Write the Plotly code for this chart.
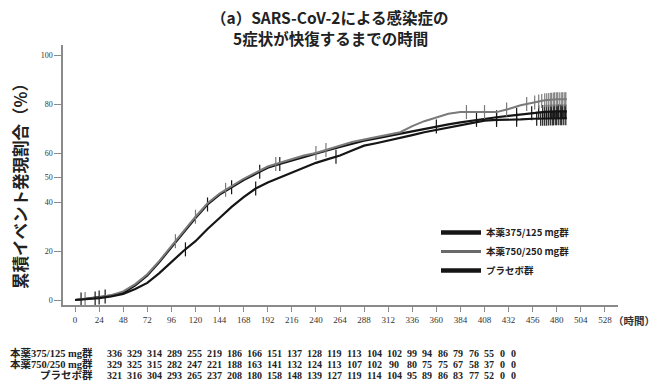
import numpy as np
import plotly.graph_objects as go

# ---------------- data ----------------
hours = [0, 12, 24, 36, 48, 60, 72, 84, 96, 108, 120, 132, 144, 156, 168, 180, 192, 204,
         216, 228, 240, 252, 264, 276, 288, 300, 312, 324, 336, 348, 360, 372, 384, 396,
         408, 420, 432, 444, 456, 468, 480, 490]

pct_375 = [0, 0.5, 1, 1.8, 3, 6, 10, 15.5, 21.5, 27.5, 33.5, 39, 43, 46, 49, 51.5, 54, 55.5,
           57, 58.5, 60, 61.2, 62.5, 63.8, 65, 66, 67, 68, 69, 70, 70.8, 71.7, 72.5, 73.3,
           74, 74.6, 75.2, 75.8, 76.3, 76.8, 77, 77]
pct_750 = [0, 0.5, 1, 2, 3.5, 6.5, 10.5, 16, 22, 28, 34, 39.5, 43.5, 46.5, 49.5, 52, 54.5, 56,
           57.5, 59, 60, 61.5, 63, 64.5, 65.5, 66.5, 67.5, 68.5, 71, 73, 74.5, 76, 76.7, 76.7,
           76.7, 76.7, 78, 79.5, 80.5, 81.5, 82, 82]
pct_pbo = [0, 0.3, 0.8, 1.5, 2.5, 4.5, 7, 11, 15.5, 20, 24, 29, 33.5, 38, 42, 45.5, 48, 50,
           52, 54, 56, 57.5, 59, 61, 63, 64, 65, 66.2, 67.3, 68.5, 69.5, 70.5, 71.5, 72.5,
           73.2, 73.5, 73.5, 73.7, 74, 74, 74.2, 74.2]

cens_375 = [6, 24, 30, 132, 156, 184, 204, 360, 400, 420, 440, 455, 462, 466, 468, 470, 472, 474,
            475, 477, 478, 480, 481, 482, 484, 485, 486, 488, 489]
cens_750 = [10, 100, 120, 150, 200, 240, 250, 390, 408, 430, 450, 458, 462, 465, 468, 470, 472,
            474, 475, 477, 478, 480, 481, 483, 485, 486, 488, 489]
cens_pbo = [20, 110, 180, 260, 420, 440, 460, 464, 466, 468, 470, 472, 474, 476, 477, 479, 480,
            482, 484, 485, 487, 489]

series_names = ["本薬375/125 mg群", "本薬750/250 mg群", "プラセボ群"]
table_labels = ["本薬375/125 mg群", "本薬750/250 mg群", "プラセボ群"]
risk_375 = [336, 329, 314, 289, 255, 219, 186, 166, 151, 137, 128, 119, 113, 104, 102, 99, 94, 86, 79, 76, 55, 0, 0]
risk_750 = [329, 325, 315, 282, 247, 221, 188, 163, 141, 132, 124, 113, 107, 102, 90, 80, 75, 75, 67, 58, 37, 0, 0]
risk_pbo = [321, 316, 304, 293, 265, 237, 208, 180, 158, 148, 139, 127, 119, 114, 104, 95, 89, 86, 83, 77, 52, 0, 0]

x_ticks = list(range(0, 529, 24))
y_ticks = [0, 20, 40, 50, 60, 80, 100]

title_lines = ["（a）SARS-CoV-2による感染症の", "5症状が快復するまでの時間"]
y_title = "累積イベント発現割合（%）"
x_unit = "（時間）"

# ---------------- figure ----------------
W, H = 657, 385
L, R, T, B = 63, 39, 45, 80
PW = W - L - R
PH = H - T - B

colors = ["#151515", "#7a7a7a", "#151515"]
widths = [2.2, 2.0, 2.2]
SERIF = "Liberation Serif, Noto Sans CJK JP, serif"
CJK = "Noto Sans CJK JP, Liberation Serif, sans-serif"

fig = go.Figure()


def step_val(t, xs, ys):
    return np.interp(np.array(t, dtype=float), np.array(xs, dtype=float), np.array(ys, dtype=float))


for name, ys, cens, c, w in zip(series_names, [pct_375, pct_750, pct_pbo],
                                [cens_375, cens_750, cens_pbo], colors, widths):
    fig.add_trace(go.Scatter(x=hours, y=ys, mode="lines", line=dict(color=c, width=w),
                             showlegend=False, hoverinfo="skip"))
    fig.add_trace(go.Scatter(x=cens, y=step_val(cens, hours, ys), mode="markers",
                             marker=dict(symbol="line-ns", size=10, line=dict(color=c, width=1.2)),
                             showlegend=False, hoverinfo="skip"))

# legend-only traces (thicker sample lines)
for name, c, w in zip(series_names, ["#151515", "#6a6a6a", "#151515"], [4.5, 3, 4.5]):
    fig.add_trace(go.Scatter(x=[None], y=[None], mode="lines", name=f"<b>{name}</b>",
                             line=dict(color=c, width=w), showlegend=True))

# number-at-risk table
col_digits = [max(len(str(a)), len(str(b)), len(str(c))) for a, b, c in zip(risk_375, risk_750, risk_pbo)]
col_w = {3: 20.0, 2: 15.5, 1: 11.0}
centers = []
pos = 104.0
for d in col_digits:
    centers.append(pos + col_w[d] / 2)
    pos += col_w[d]
row_y = [353, 364, 375]
for lab, row, ypx in zip(table_labels, [risk_375, risk_750, risk_pbo], row_y):
    yp = (H - B - ypx) / PH
    fig.add_annotation(x=(95 - L) / PW, y=yp, xref="paper", yref="paper", text=f"<b>{lab}</b>",
                       showarrow=False, xanchor="right", yanchor="middle",
                       font=dict(size=10.5, family=SERIF, color="#222"))
    for v, cx in zip(row, centers):
        fig.add_annotation(x=(cx - L) / PW, y=yp, xref="paper", yref="paper", text=f"<b>{v}</b>",
                           showarrow=False, xanchor="center", yanchor="middle",
                           font=dict(size=10, family=SERIF, color="#222"))

# title (two lines)
for line, ypx in zip(title_lines, [17, 38]):
    fig.add_annotation(x=(330 - L) / PW, y=(H - B - ypx) / PH, xref="paper", yref="paper",
                       text=f"<b>{line}</b>", showarrow=False, xanchor="center", yanchor="middle",
                       font=dict(size=15.5, family=CJK, color="#222"))

# y axis title
fig.add_annotation(x=(20 - L) / PW, y=(H - B - 182) / PH, xref="paper", yref="paper",
                   text=f"<b>{y_title}</b>", textangle=-90, showarrow=False,
                   xanchor="center", yanchor="middle", font=dict(size=16.5, family=CJK, color="#222"))
# x unit
fig.add_annotation(x=(611 - L) / PW, y=(H - B - 320) / PH, xref="paper", yref="paper",
                   text=f"<b>{x_unit}</b>", showarrow=False, xanchor="left", yanchor="middle",
                   font=dict(size=10.5, family=CJK, color="#333"))

fig.update_layout(
    width=W, height=H, margin=dict(l=L, r=R, t=T, b=B),
    paper_bgcolor="white", plot_bgcolor="white",
    legend=dict(x=(436 - L) / PW, y=(H - B - 218) / PH, xanchor="left", yanchor="top",
                font=dict(size=9.5, family=CJK, color="#222"), bgcolor="rgba(0,0,0,0)",
                tracegroupgap=0, itemwidth=40),
    xaxis=dict(range=[-12, 541], tickvals=x_ticks, ticktext=[str(v) for v in x_ticks],
               showgrid=False, zeroline=False, showline=True, linecolor="#8a8a8a", linewidth=1.5,
               ticks="outside", ticklen=5, tickcolor="#8a8a8a", tickwidth=1.2,
               tickfont=dict(size=9, family=SERIF, color="#333")),
    yaxis=dict(range=[-2.04, 104.1], tickvals=y_ticks, ticktext=[str(v) for v in y_ticks],
               showgrid=False, zeroline=False, showline=True, linecolor="#8a8a8a", linewidth=1.5,
               ticks="outside", ticklen=7, tickcolor="#8a8a8a", tickwidth=1.2,
               tickfont=dict(size=8, family=SERIF, color="#333")),
)

fig.write_html("out.html", config={"displayModeBar": False},
               post_script="document.body.style.margin='0';")
